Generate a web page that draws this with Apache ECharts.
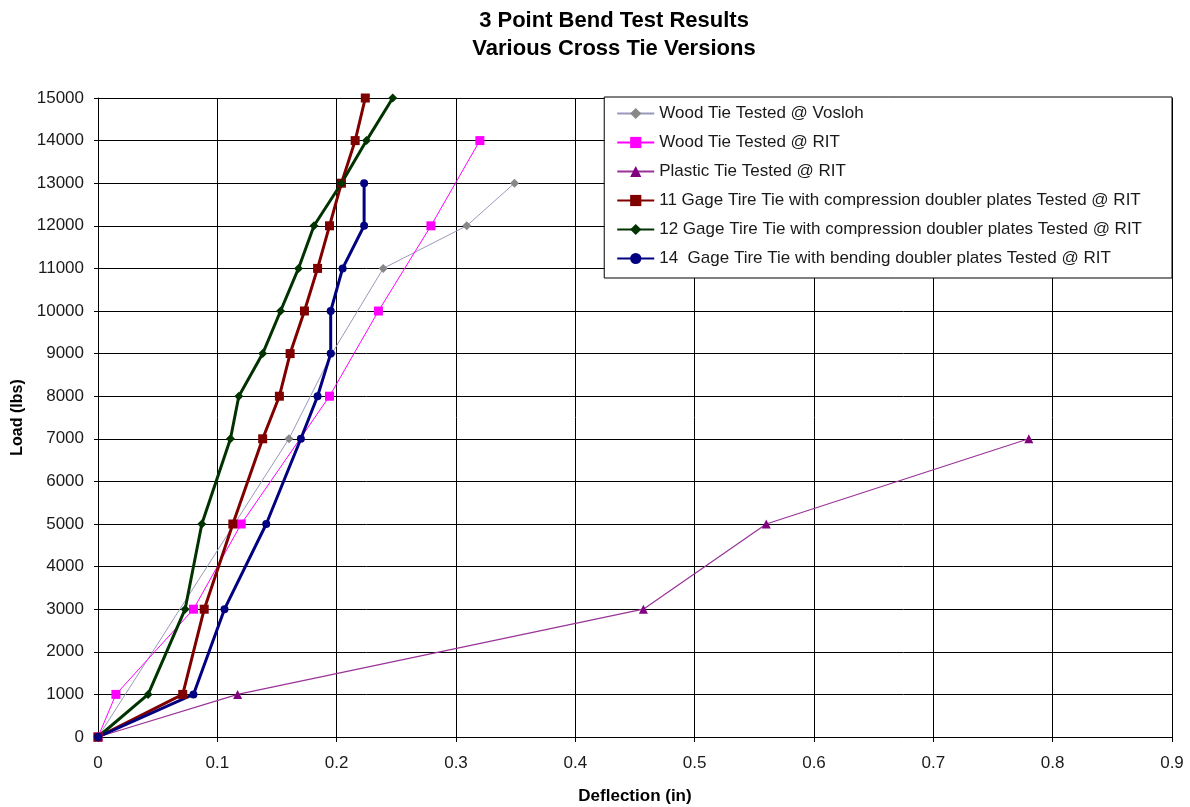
<!DOCTYPE html>
<html><head><meta charset="utf-8">
<script src="https://cdn.jsdelivr.net/npm/echarts@6/dist/echarts.min.js"></script>
<style>html,body{margin:0;padding:0;background:#fff}#c{width:1190px;height:807px}</style>
</head><body><div id="c"></div>
<script>
const woodVosloh = [[0,0],[0.160,7000],[0.196,9000],[0.239,11000],[0.309,12000],[0.349,13000]];
const woodRIT = [[0,0],[0.015,1000],[0.080,3000],[0.120,5000],[0.194,8000],[0.235,10000],[0.279,12000],[0.320,14000]];
const plasticRIT = [[0,0],[0.117,1000],[0.457,3000],[0.560,5000],[0.780,7000]];
const gage11 = [[0,0],[0.071,1000],[0.089,3000],[0.113,5000],[0.138,7000],[0.152,8000],[0.161,9000],[0.173,10000],[0.184,11000],[0.194,12000],[0.204,13000],[0.2155,14000],[0.224,15000]];
const gage12 = [[0,0],[0.042,1000],[0.073,3000],[0.087,5000],[0.111,7000],[0.118,8000],[0.138,9000],[0.153,10000],[0.168,11000],[0.181,12000],[0.204,13000],[0.225,14000],[0.247,15000]];
const gage14 = [[0,0],[0.080,1000],[0.106,3000],[0.141,5000],[0.170,7000],[0.184,8000],[0.195,9000],[0.195,10000],[0.205,11000],[0.223,12000],[0.223,13000]];
const names = ["Wood Tie Tested @ Vosloh","Wood Tie Tested @ RIT","Plastic Tie Tested @ RIT",
  "11 Gage Tire Tie with compression doubler plates Tested @ RIT",
  "12 Gage Tire Tie with compression doubler plates Tested @ RIT",
  "14  Gage Tire Tie with bending doubler plates Tested @ RIT"];

const font = "Liberation Sans, Arial, sans-serif";
const txt = '#1a1a1a';
function s(name, data, lineColor, markColor, width, symbol, size){
  return {name, type:'line', data, symbol, symbolSize:size, showSymbol:true,
    lineStyle:{color:lineColor, width}, itemStyle:{color:markColor, borderWidth:0}, emphasis:{disabled:true}};
}
const chart = echarts.init(document.getElementById('c'));
chart.setOption({
  animation:false,
  backgroundColor:'#fff',
  title:{text:'3 Point Bend Test Results\nVarious Cross Tie Versions', left:609, top:2, textAlign:'center',
    textStyle:{fontFamily:font, fontWeight:'bold', fontSize:22, lineHeight:28, color:'#000'}},
  grid:{left:98, right:18, top:98, bottom:70, containLabel:false, outerBoundsMode:'none'},
  legend:{orient:'vertical', right:18, top:97, data:names, backgroundColor:'#fff', borderColor:'#000', borderWidth:1,
    padding:[8,30,11,12], itemGap:12, itemWidth:37, itemHeight:14,
    textStyle:{fontFamily:font, fontSize:17, lineHeight:17, color:txt}},
  xAxis:{type:'value', min:0, max:0.9, interval:0.1, name:'Deflection (in)', nameLocation:'middle', nameGap:51,
    nameTextStyle:{fontFamily:font, fontWeight:'bold', fontSize:17, color:'#000'},
    axisLine:{lineStyle:{color:'#000'}}, axisTick:{show:true, length:5, lineStyle:{color:'#000'}},
    axisLabel:{fontFamily:font, fontSize:17, color:txt, margin:18, formatter:v=>String(+v.toFixed(1))},
    splitLine:{show:true, lineStyle:{color:'#000', width:1}}},
  yAxis:{type:'value', min:0, max:15000, interval:1000, name:'Load (lbs)', nameLocation:'middle', nameGap:71,
    nameTextStyle:{fontFamily:font, fontWeight:'bold', fontSize:16, color:'#000'},
    axisLine:{show:true, lineStyle:{color:'#000'}}, axisTick:{show:true, length:4, lineStyle:{color:'#000'}},
    axisLabel:{fontFamily:font, fontSize:17, color:txt, margin:14, formatter:v=>String(v)},
    splitLine:{show:true, lineStyle:{color:'#000', width:1}}},
  series:[
    s(names[0], woodVosloh, '#9999bb', '#888888', 1, 'diamond', 9),
    s(names[1], woodRIT, '#ff00ff', '#ff00ff', 1, 'rect', 9),
    s(names[2], plasticRIT, '#993399', '#800080', 1.2, 'triangle', 9),
    s(names[3], gage11, '#800000', '#800000', 3, 'rect', 9),
    s(names[4], gage12, '#003300', '#003300', 3, 'diamond', 9),
    s(names[5], gage14, '#000080', '#000080', 3, 'circle', 8)
  ]
});
</script></body></html>
